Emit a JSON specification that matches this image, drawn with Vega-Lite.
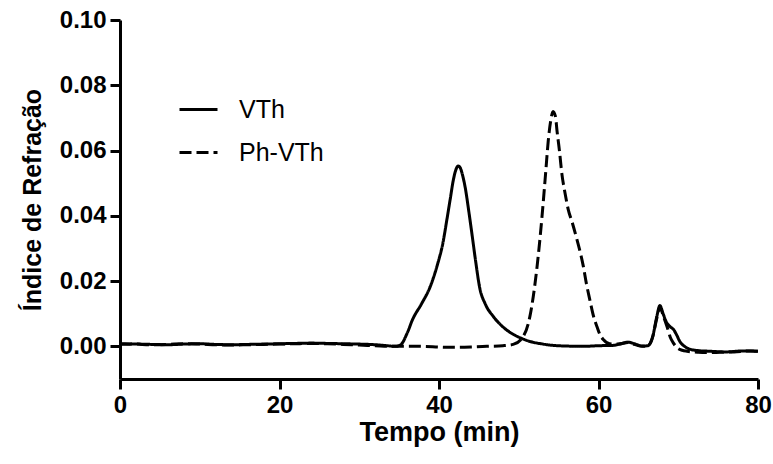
{
  "$schema": "https://vega.github.io/schema/vega-lite/v6.json",
  "width": 638,
  "height": 359,
  "autosize": {"type": "none"},
  "padding": {"left": 120, "top": 20, "right": 15, "bottom": 85},
  "config": {"view": {"stroke": null}, "font": "Liberation Sans"},
  "datasets": {
    "vth": [
      {"t": 0, "v": 0.0006}, {"t": 2, "v": 0.0007}, {"t": 4, "v": 0.0006}, {"t": 6, "v": 0.0005},
      {"t": 8, "v": 0.0007}, {"t": 10, "v": 0.0008}, {"t": 12, "v": 0.0006}, {"t": 14, "v": 0.0005},
      {"t": 16, "v": 0.0006}, {"t": 18, "v": 0.0007}, {"t": 20, "v": 0.0008}, {"t": 22, "v": 0.0009},
      {"t": 24, "v": 0.001}, {"t": 26, "v": 0.0009}, {"t": 28, "v": 0.0008}, {"t": 30, "v": 0.0007},
      {"t": 32, "v": 0.0005}, {"t": 33.5, "v": 0.0002}, {"t": 34.5, "v": 0.0}, {"t": 35.2, "v": 0.0005},
      {"t": 36, "v": 0.004}, {"t": 36.7, "v": 0.0083}, {"t": 37.8, "v": 0.013}, {"t": 38.9, "v": 0.0183},
      {"t": 39.8, "v": 0.025}, {"t": 40.5, "v": 0.0318}, {"t": 41, "v": 0.039}, {"t": 41.4, "v": 0.045},
      {"t": 41.8, "v": 0.051}, {"t": 42.1, "v": 0.054}, {"t": 42.4, "v": 0.0553}, {"t": 42.7, "v": 0.0545},
      {"t": 43, "v": 0.052}, {"t": 43.3, "v": 0.0485}, {"t": 43.7, "v": 0.042}, {"t": 44.1, "v": 0.035},
      {"t": 44.6, "v": 0.026}, {"t": 45.1, "v": 0.018}, {"t": 45.8, "v": 0.013}, {"t": 46.8, "v": 0.0092},
      {"t": 48, "v": 0.006}, {"t": 49.3, "v": 0.0037}, {"t": 50.3, "v": 0.0025}, {"t": 51.4, "v": 0.0015},
      {"t": 52.8, "v": 0.0008}, {"t": 54.3, "v": 0.0003}, {"t": 56, "v": 0.0001}, {"t": 58, "v": 0.0},
      {"t": 60, "v": 0.0002}, {"t": 61.8, "v": 0.0003}, {"t": 62.8, "v": 0.0008}, {"t": 63.7, "v": 0.0013},
      {"t": 64.5, "v": 0.0008}, {"t": 65.5, "v": 0.0001}, {"t": 66.2, "v": 0.0002}, {"t": 66.8, "v": 0.003},
      {"t": 67.3, "v": 0.009}, {"t": 67.7, "v": 0.0125}, {"t": 68.1, "v": 0.01}, {"t": 68.5, "v": 0.0075},
      {"t": 69.0, "v": 0.006}, {"t": 69.4, "v": 0.0052}, {"t": 69.8, "v": 0.0035}, {"t": 70.2, "v": 0.0015},
      {"t": 70.8, "v": 0.0}, {"t": 71.5, "v": -0.0009}, {"t": 72.5, "v": -0.0013}, {"t": 74, "v": -0.0015},
      {"t": 76, "v": -0.0017}, {"t": 78, "v": -0.0014}, {"t": 80, "v": -0.0015}
    ],
    "phvth": [
      {"t": 0, "v": 0.0008}, {"t": 2, "v": 0.0007}, {"t": 4, "v": 0.0005}, {"t": 6, "v": 0.0006},
      {"t": 8, "v": 0.0008}, {"t": 10, "v": 0.0007}, {"t": 12, "v": 0.0005}, {"t": 14, "v": 0.0004},
      {"t": 16, "v": 0.0005}, {"t": 18, "v": 0.0006}, {"t": 20, "v": 0.0007}, {"t": 22, "v": 0.0008},
      {"t": 24, "v": 0.0009}, {"t": 26, "v": 0.0008}, {"t": 28, "v": 0.0006}, {"t": 30, "v": 0.0004},
      {"t": 32, "v": 0.0002}, {"t": 34, "v": 0.0}, {"t": 36, "v": 0.0}, {"t": 38, "v": 0.0},
      {"t": 40, "v": -0.0002}, {"t": 42, "v": -0.0003}, {"t": 44, "v": -0.0002}, {"t": 46, "v": 0.0},
      {"t": 48, "v": 0.0002}, {"t": 49.3, "v": 0.0006}, {"t": 50.5, "v": 0.0028}, {"t": 51.4, "v": 0.0092},
      {"t": 52.3, "v": 0.0245}, {"t": 52.7, "v": 0.034}, {"t": 53.1, "v": 0.045}, {"t": 53.4, "v": 0.054},
      {"t": 53.7, "v": 0.063}, {"t": 54.0, "v": 0.069}, {"t": 54.3, "v": 0.072}, {"t": 54.6, "v": 0.0705},
      {"t": 54.8, "v": 0.066}, {"t": 55.1, "v": 0.06}, {"t": 55.4, "v": 0.053}, {"t": 55.8, "v": 0.047},
      {"t": 56.2, "v": 0.042}, {"t": 56.7, "v": 0.038}, {"t": 57.3, "v": 0.0327}, {"t": 58.1, "v": 0.0245},
      {"t": 58.5, "v": 0.019}, {"t": 58.9, "v": 0.0144}, {"t": 59.4, "v": 0.009}, {"t": 59.8, "v": 0.0061},
      {"t": 60.2, "v": 0.0035}, {"t": 60.6, "v": 0.0021}, {"t": 61.4, "v": 0.0008}, {"t": 62.5, "v": 0.0007},
      {"t": 63.7, "v": 0.0012}, {"t": 64.5, "v": 0.0006}, {"t": 65.5, "v": 0.0}, {"t": 66.2, "v": 0.0002},
      {"t": 66.8, "v": 0.003}, {"t": 67.3, "v": 0.0085}, {"t": 67.7, "v": 0.012}, {"t": 68.1, "v": 0.0095},
      {"t": 68.6, "v": 0.006}, {"t": 69.0, "v": 0.0028}, {"t": 69.4, "v": 0.001}, {"t": 69.8, "v": -0.0003},
      {"t": 70.5, "v": -0.0012}, {"t": 71.1, "v": -0.0015}, {"t": 72.5, "v": -0.0018}, {"t": 74, "v": -0.0019},
      {"t": 75.2, "v": -0.0018}, {"t": 77, "v": -0.0017}, {"t": 79, "v": -0.0014}, {"t": 80, "v": -0.0015}
    ]
  },
  "layer": [
    {
      "data": {"name": "vth"},
      "transform": [{"calculate": "'VTh'", "as": "s"}],
      "mark": {"type": "line", "color": "black", "strokeWidth": 3, "interpolate": "monotone"},
      "encoding": {
        "x": {"field": "t", "type": "quantitative"},
        "y": {"field": "v", "type": "quantitative"},
        "strokeDash": {"field": "s", "type": "nominal"}
      }
    },
    {
      "data": {"name": "phvth"},
      "transform": [{"calculate": "'Ph-VTh'", "as": "s"}],
      "mark": {"type": "line", "color": "black", "strokeWidth": 3, "interpolate": "monotone"},
      "encoding": {
        "x": {"field": "t", "type": "quantitative"},
        "y": {"field": "v", "type": "quantitative"},
        "strokeDash": {"field": "s", "type": "nominal"}
      }
    }
  ],
  "resolve": {"scale": {"strokeDash": "shared"}},
  "encoding": {
    "x": {
      "field": "t", "type": "quantitative",
      "scale": {"domain": [0, 80], "nice": false},
      "axis": {
        "values": [0, 20, 40, 60, 80], "grid": false, "labelFlush": false,
        "domainColor": "black", "domainWidth": 3,
        "tickColor": "black", "tickWidth": 3, "tickSize": 10,
        "labelFontSize": 24, "labelFontWeight": "bold", "labelColor": "black", "labelPadding": 4,
        "title": "Tempo (min)", "titleFontSize": 27, "titleFontWeight": "bold", "titleColor": "black", "titlePadding": 2
      }
    },
    "y": {
      "field": "v", "type": "quantitative",
      "scale": {"domain": [-0.01, 0.1], "nice": false, "zero": false},
      "axis": {
        "values": [0, 0.02, 0.04, 0.06, 0.08, 0.1], "format": ".2f", "grid": false,
        "domainColor": "black", "domainWidth": 3,
        "tickColor": "black", "tickWidth": 3, "tickSize": 10,
        "labelFontSize": 24, "labelFontWeight": "bold", "labelColor": "black", "labelPadding": 4,
        "title": "Índice de Refração", "titleFontSize": 25, "titleFontWeight": "bold", "titleColor": "black", "titlePadding": 14
      }
    },
    "strokeDash": {
      "field": "s", "type": "nominal",
      "scale": {"domain": ["VTh", "Ph-VTh"], "range": [[1, 0], [12, 5]]},
      "legend": {
        "title": null, "orient": "none", "legendX": 58, "legendY": 69, "padding": 0,
        "symbolType": "stroke", "symbolSize": 1444, "symbolStrokeWidth": 3, "symbolStrokeColor": "black",
        "labelFontSize": 25, "labelFontWeight": "normal", "labelColor": "black", "labelOffset": 20,
        "rowPadding": 9
      }
    }
  }
}
